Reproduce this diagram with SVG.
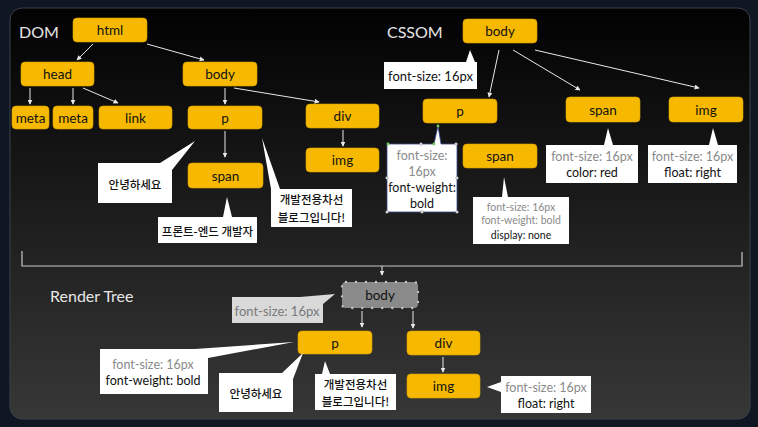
<svg xmlns="http://www.w3.org/2000/svg" width="758" height="427" viewBox="0 0 758 427">
  <defs>
    <linearGradient id="panelGrad" x1="0" y1="0" x2="0" y2="1">
      <stop offset="0" stop-color="#020202"/>
      <stop offset="1" stop-color="#373737"/>
    </linearGradient>
    <marker id="arrow" viewBox="0 0 8 8" refX="7" refY="4" markerWidth="5" markerHeight="5" orient="auto" markerUnits="userSpaceOnUse">
      <path d="M0,0 L8,4 L0,8 Z" fill="#e8e8e8"/>
    </marker>
    <style>
      .node rect { fill: #f6b900; stroke: #d9a200; stroke-width: 0.6; }
      .label { font-family: Lato, "Noto Sans", "Liberation Sans", sans-serif; font-size: 13.5px; fill: #111; text-anchor: middle; dominant-baseline: central; }
      .title { font-family: Lato, "Noto Sans", "Liberation Sans", sans-serif; font-size: 16px; fill: #e6e6e6; dominant-baseline: central; }
      .edge { stroke: #e8e8e8; stroke-width: 1; fill: none; marker-end: url(#arrow); }
      .bubble { fill: #ffffff; }
      .note { font-family: Lato, "Noto Sans", "Liberation Sans", sans-serif; font-size: 12.5px; text-anchor: middle; dominant-baseline: central; }
      .dim { fill: #8a8a8a; }
      .strong { fill: #111; }
      .ko { font-family: "Noto Sans CJK KR", "Noto Sans", sans-serif; font-size: 11.5px; font-weight: 500; fill: #111; text-anchor: middle; dominant-baseline: central; }
      .handle { fill: #fff; stroke: #8a8a8a; stroke-width: 0.6; }
      .handle-on { fill: #6fd35a; }
    </style>
  </defs>

  <!-- backdrop and slide panel -->
  <rect x="0" y="0" width="758" height="427" fill="#0f1722"/>
  <rect x="10" y="8" width="740" height="411" rx="12" fill="url(#panelGrad)" stroke="#3a424c" stroke-width="1"/>

  <!-- section titles -->
  <text class="title" x="19" y="31">DOM</text>
  <text class="title" x="387" y="31">CSSOM</text>
  <text class="title" x="50" y="295">Render Tree</text>

  <!-- connectors -->
  <g id="connectors">
    <line class="edge" x1="93" y1="44" x2="77" y2="60"/>
    <line class="edge" x1="147" y1="44" x2="204" y2="60"/>
    <line class="edge" x1="30" y1="88" x2="30" y2="104"/>
    <line class="edge" x1="73" y1="88" x2="73" y2="104"/>
    <line class="edge" x1="83" y1="88" x2="118" y2="103"/>
    <line class="edge" x1="225" y1="88" x2="225" y2="104"/>
    <line class="edge" x1="234" y1="88" x2="319" y2="102"/>
    <line class="edge" x1="225" y1="131" x2="225" y2="157"/>
    <line class="edge" x1="343" y1="130" x2="343" y2="146"/>

    <line class="edge" x1="499" y1="50" x2="489" y2="97"/>
    <line class="edge" x1="513" y1="50" x2="580" y2="90"/>
    <line class="edge" x1="535" y1="50" x2="699" y2="88"/>

    <path d="M22,251 V266 H742 V252" fill="none" stroke="#c8c8c8" stroke-width="1.2"/>
    <line class="edge" x1="382" y1="266" x2="382" y2="275"/>

    <line class="edge" x1="362" y1="311" x2="362" y2="327"/>
    <line class="edge" x1="413" y1="311" x2="413" y2="328"/>
    <line class="edge" x1="443" y1="357" x2="443" y2="372"/>
  </g>

  <!-- DOM tree -->
  <g id="dom-html" class="node"><rect x="73" y="18" width="74" height="24" rx="4"/><text class="label" x="110" y="30">html</text></g>
  <g id="dom-head" class="node"><rect x="21" y="62" width="73" height="24" rx="4"/><text class="label" x="57.5" y="74">head</text></g>
  <g id="dom-body" class="node"><rect x="183" y="62" width="74" height="24" rx="4"/><text class="label" x="220" y="74">body</text></g>
  <g id="dom-meta1" class="node"><rect x="12" y="106" width="37" height="23" rx="4"/><text class="label" x="30.5" y="117.5">meta</text></g>
  <g id="dom-meta2" class="node"><rect x="53" y="106" width="40" height="23" rx="4"/><text class="label" x="73" y="117.5">meta</text></g>
  <g id="dom-link" class="node"><rect x="99" y="106" width="73" height="23" rx="4"/><text class="label" x="135.5" y="117.5">link</text></g>
  <g id="dom-p" class="node"><rect x="188" y="106" width="74" height="23" rx="4"/><text class="label" x="225" y="117.5">p</text></g>
  <g id="dom-div" class="node"><rect x="306" y="104" width="73" height="24" rx="4"/><text class="label" x="342.5" y="116">div</text></g>
  <g id="dom-img" class="node"><rect x="306" y="148" width="73" height="24" rx="4"/><text class="label" x="342.5" y="160">img</text></g>
  <g id="dom-span" class="node"><rect x="188" y="163" width="75" height="25" rx="4"/><text class="label" x="225.5" y="175.5">span</text></g>

  <g id="dom-text-hello">
    <path class="bubble" d="M98,163 H160 L195,141 L172,170 V203 H98 Z"/>
    <text class="ko" x="135" y="184">안녕하세요</text>
  </g>
  <g id="dom-text-frontend">
    <path class="bubble" d="M158,217 H223 L227,197 L232,217 H257 V243 H158 Z"/>
    <text class="ko" x="207.5" y="230.5">프론트-엔드 개발자</text>
  </g>
  <g id="dom-text-blog">
    <path class="bubble" d="M271,189 L262,138 L280,189 H352 V227 H271 Z"/>
    <text class="ko" x="311.5" y="199">개발전용차선</text>
    <text class="ko" x="311.5" y="217">블로그입니다!</text>
  </g>

  <!-- CSSOM tree -->
  <g id="cssom-body" class="node"><rect x="463" y="19" width="74" height="24" rx="4"/><text class="label" x="500" y="31">body</text></g>
  <g id="cssom-p" class="node"><rect x="423" y="99" width="74" height="24" rx="4"/><text class="label" x="460" y="111">p</text></g>
  <g id="cssom-span" class="node"><rect x="566" y="97" width="74" height="25" rx="4"/><text class="label" x="603" y="109.5">span</text></g>
  <g id="cssom-img" class="node"><rect x="669" y="97" width="74" height="25" rx="4"/><text class="label" x="706" y="109.5">img</text></g>
  <g id="cssom-p-span" class="node"><rect x="463" y="144" width="74" height="24" rx="4"/><text class="label" x="500" y="156">span</text></g>

  <g id="cssom-body-style">
    <path class="bubble" d="M384,62 H466 L470,50 L475,62 H477 V89 H384 Z"/>
    <text class="note strong" x="430.5" y="76" style="font-size:13px">font-size: 16px</text>
  </g>
  <g id="cssom-p-style">
    <path class="bubble" d="M387,144 H434 L438,126 L441,144 H457 V212 H387 Z" stroke="#3c4a8c" stroke-width="0.8"/>
    <text class="note dim" x="422" y="155">font-size:</text>
    <text class="note dim" x="422" y="171">16px</text>
    <text class="note strong" x="422" y="187">font-weight:</text>
    <text class="note strong" x="422" y="203">bold</text>
    <circle class="handle" cx="421" cy="144" r="1.3"/>
    <circle class="handle" cx="456" cy="144" r="1.3"/>
    <circle class="handle" cx="387" cy="178" r="1.3"/>
    <circle class="handle" cx="457" cy="178" r="1.3"/>
    <circle class="handle" cx="387" cy="212" r="1.3"/>
    <circle class="handle" cx="422" cy="212" r="1.3"/>
    <circle class="handle" cx="457" cy="212" r="1.3"/>
    <circle class="handle-on" cx="388" cy="144" r="1.4"/>
    <circle class="handle-on" cx="434" cy="144" r="1.4"/>
    <circle class="handle-on" cx="438" cy="126" r="1.4"/>
  </g>
  <g id="cssom-span-inner-style">
    <path class="bubble" d="M473,197 H502 L504,177 L508,197 H569 V244 H473 Z"/>
    <text class="note dim" x="521" y="207" style="font-size:10.5px">font-size: 16px</text>
    <text class="note dim" x="521" y="220" style="font-size:10.5px">font-weight: bold</text>
    <text class="note strong" x="521" y="235" style="font-size:10.5px">display: none</text>
  </g>
  <g id="cssom-span-style">
    <path class="bubble" d="M546,145 H604 L608,128 L613,145 H638 V183 H546 Z"/>
    <text class="note dim" x="592" y="156">font-size: 16px</text>
    <text class="note strong" x="592" y="172">color: red</text>
  </g>
  <g id="cssom-img-style">
    <path class="bubble" d="M648,145 H709 L713,128 L718,145 H737 V183 H648 Z"/>
    <text class="note dim" x="692.5" y="156">font-size: 16px</text>
    <text class="note strong" x="692.5" y="172">float: right</text>
  </g>

  <!-- Render tree -->
  <g id="render-body">
    <rect x="342" y="282" width="76" height="26" rx="4" fill="#8a8a8a"/>
    <rect x="342" y="282" width="76" height="26" rx="4" fill="none" stroke="#c4c4c4" stroke-width="2.4" stroke-linecap="round" stroke-dasharray="0 10"/>
    <text class="label" x="380" y="295">body</text>
  </g>
  <g id="render-p" class="node"><rect x="298" y="331" width="74" height="23" rx="4"/><text class="label" x="335" y="342.5">p</text></g>
  <g id="render-div" class="node"><rect x="407" y="331" width="73" height="24" rx="4"/><text class="label" x="443.5" y="343">div</text></g>
  <g id="render-img" class="node"><rect x="407" y="374" width="73" height="24" rx="4"/><text class="label" x="443.5" y="386">img</text></g>

  <g id="render-body-style">
    <path d="M232,297 H300 L335,294 L323,304 V323 H232 Z" fill="#d9d9d9"/>
    <text class="note" x="277" y="310.5" fill="#7a7a7a" style="font-size:13px">font-size: 16px</text>
  </g>
  <g id="render-p-style">
    <path class="bubble" d="M100,349 H195 L294,342 L208,358 V394 H100 Z"/>
    <text class="note dim" x="153" y="364">font-size: 16px</text>
    <text class="note strong" x="153" y="380">font-weight: bold</text>
  </g>
  <g id="render-text-hello">
    <path class="bubble" d="M219,373 H282 L303,353 L293,379 V412 H219 Z"/>
    <text class="ko" x="256" y="393">안녕하세요</text>
  </g>
  <g id="render-text-blog">
    <path class="bubble" d="M315,374 H322 L325,361 L330,374 H396 V410 H315 Z"/>
    <text class="ko" x="355.5" y="384">개발전용차선</text>
    <text class="ko" x="355.5" y="401">블로그입니다!</text>
  </g>
  <g id="render-img-style">
    <path class="bubble" d="M501,376 H591 V413 H501 V392 L487,387 L501,382 Z"/>
    <text class="note dim" x="546" y="387">font-size: 16px</text>
    <text class="note strong" x="546" y="403">float: right</text>
  </g>
</svg>
